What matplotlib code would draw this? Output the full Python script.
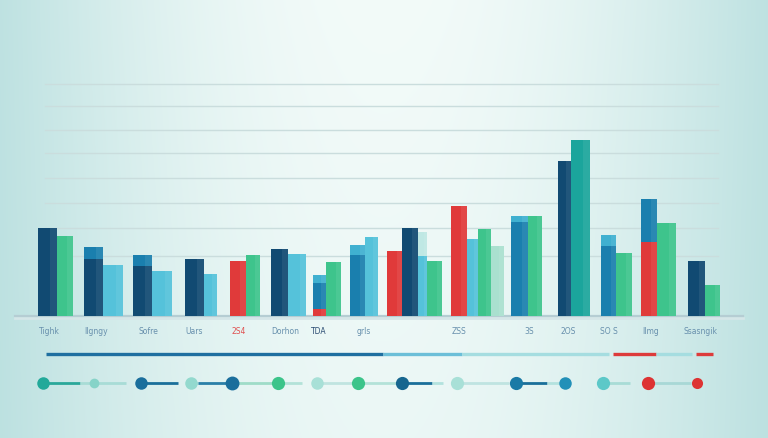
import numpy as np
import matplotlib
matplotlib.use("Agg")
import matplotlib.pyplot as plt
from matplotlib.colors import to_rgb

# ---- data ----
# stacked segment values of every bar (bottom -> top)
bar_values = [
    [88], [80],
    [57, 12], [51],
    [50, 11], [45],
    [57], [42],
    [55], [61],
    [67], [62],
    [7, 26, 8], [54],
    [61, 10], [79],
    [65], [88], [60, 24], [55],
    [110], [77], [87], [70],
    [94, 6], [100],
    [155], [176],
    [70, 11], [63],
    [74, 43], [93],
    [55], [31],
]
labels = ["Tighk", "Ilgngy", "Sofre", "Uars", "2S4", "Dorhon", "TDA",
          "grls", "", "ZSS", "3S", "2OS", "SO S", "Ilmg", "Ssasngik"]
grid_values = [60, 88, 113, 138, 163, 186, 210, 232]
timeline_points = [43, 94, 141, 191, 232, 278, 317, 358, 402, 457, 516, 565, 603, 648, 697]
progress_marks = [46, 383, 462, 609, 613, 656, 692, 696, 713]

# ---- layout / style ----
NAVY = "#114a72"
MED = "#1a7fae"
LIGHT = "#3fb0d0"
CYAN = "#55c2da"
GREEN = "#3ec48c"
TEAL = "#1ba59c"
RED = "#e03a3a"
PALE = "#a9e0cf"

bar_colors = [
    [NAVY], [GREEN],
    [NAVY, MED], [CYAN],
    [NAVY, MED], [CYAN],
    [NAVY], [CYAN],
    [RED], [GREEN],
    [NAVY], [CYAN],
    [RED, MED, LIGHT], [GREEN],
    [MED, LIGHT], [CYAN],
    [RED], [NAVY], [CYAN, "#bfe8e4"], [GREEN],
    [RED], [CYAN], [GREEN], [PALE],
    [MED, LIGHT], [GREEN],
    [NAVY], [TEAL],
    [MED, LIGHT], [GREEN],
    [RED, MED], [GREEN],
    [NAVY], [GREEN],
]
bar_left = [38, 57, 84, 103, 133, 152, 185, 204, 230, 246, 271, 288, 313, 326,
            350, 365, 387, 402, 418, 427, 451, 467, 478, 491, 511, 528, 558, 571,
            601, 616, 641, 657, 688, 705]
bar_width = [19, 16, 19, 20, 19, 20, 19, 13, 16, 14, 17, 18, 13, 15,
             15, 13, 15, 16, 9, 15, 16, 11, 13, 13, 17, 14, 13, 19,
             15, 16, 16, 19, 17, 15]
label_x = [49, 96, 148, 194, 239, 285, 319, 364, 414, 459, 529, 568, 609, 651, 701]
label_colors = ["#6890ad"] * len(labels)
label_colors[4] = "#e05050"
label_colors[6] = "#2b4c72"

timeline_colors = ["#22a99a", "#86d3c8", "#1a6e9c", "#93d9ce", "#1a6e9c", "#3cc48a",
                   "#a8e0d7", "#3cc48a", "#17668f", "#a8e0d7", "#1a7aa6", "#2290b8",
                   "#5cc8c8", "#dd3333", "#dd3333"]
timeline_sizes = [9, 7, 9, 9, 10, 9.5, 9, 9.5, 9.5, 9.5, 9.5, 9, 9.5, 9.5, 8]
link_segments = [(43, 80, "#2aa89a"), (80, 126, "#a8dcd6"), (141, 178, "#1a6f9a"),
                 (191, 198, "#a8dcd6"), (198, 227, "#2a7fa8"), (232, 278, "#9fdcc8"),
                 (278, 302, "#b3e2d8"), (317, 358, "#c0e4e0"), (358, 402, "#b3e2d8"),
                 (402, 432, "#1a6f9a"), (432, 443, "#b3e2de"), (457, 509, "#bfe4e1"),
                 (516, 547, "#1a6f9a"), (547, 559, "#b3e2de"), (603, 630, "#a8dcd6"),
                 (648, 691, "#a8d8d6")]
progress_colors = ["#1f6fa0", "#6cbfd8", "#a5dde0", None, "#dd3b3b", "#a5dde0", None, "#dd3b3b"]

W, H = 768, 439
BASE = 317  # baseline from top in px
fig = plt.figure(figsize=(W / 100, H / 100), dpi=100)
ax = fig.add_axes([0, 0, 1, 1])
ax.set_xlim(0, W)
ax.set_ylim(BASE - H, BASE)
ax.axis("off")

# background gradient
xs = np.linspace(0, 1, 400)
ys = np.linspace(0, 1, 240)
X, Y = np.meshgrid(xs, ys)
w = np.clip(1 - ((X - 0.5) / 0.6) ** 2, 0, 1) ** 1.3
w = w * (0.88 + 0.12 * (1 - Y))
edge = np.array(to_rgb("#b0dbdb"))
center = np.array(to_rgb("#f3fbf9"))
img = edge + (center - edge) * w[..., None]
ax.imshow(img, extent=[0, W, BASE - H, BASE], aspect="auto", zorder=0)

# gridlines
for g in grid_values:
    ax.plot([45, 718], [g, g], color="#cadddd", lw=1.0, zorder=1)

# baseline
ax.plot([15, 743], [0, 0], color="#b5cdd3", lw=1.6, zorder=2)
ax.plot([15, 743], [-2, -2], color="#d5e6e8", lw=2.0, zorder=1.5)

# bars
for segs, cols, left, wd in zip(bar_values, bar_colors, bar_left, bar_width):
    bottom = 0
    for v, c in zip(segs, cols):
        ax.bar(left, v, width=wd, bottom=bottom, align="edge", color=c, zorder=3,
               linewidth=0)
        bottom += v
    ax.bar(left + wd * 0.65, bottom, width=wd * 0.35, align="edge", color="white",
           alpha=0.07, zorder=4, linewidth=0)

# labels
for t, x, c in zip(labels, label_x, label_colors):
    ax.text(x, -15, t, ha="center", va="center", fontsize=5.5, color=c, zorder=5)

# progress line
py = BASE - 355
for i, c in enumerate(progress_colors):
    if c is None:
        continue
    ax.plot([progress_marks[i], progress_marks[i + 1]], [py, py], color=c, lw=2.4,
            solid_capstyle="butt", zorder=3)

# timeline of dots
dy = BASE - 384
for x0, x1, c in link_segments:
    ax.plot([x0, x1], [dy, dy], color=c, lw=2.0, solid_capstyle="butt", zorder=3)
for x, c, s in zip(timeline_points, timeline_colors, timeline_sizes):
    ax.plot(x, dy, "o", color=c, ms=s, mec="none", zorder=4)

fig.savefig("out.png", dpi=100)
